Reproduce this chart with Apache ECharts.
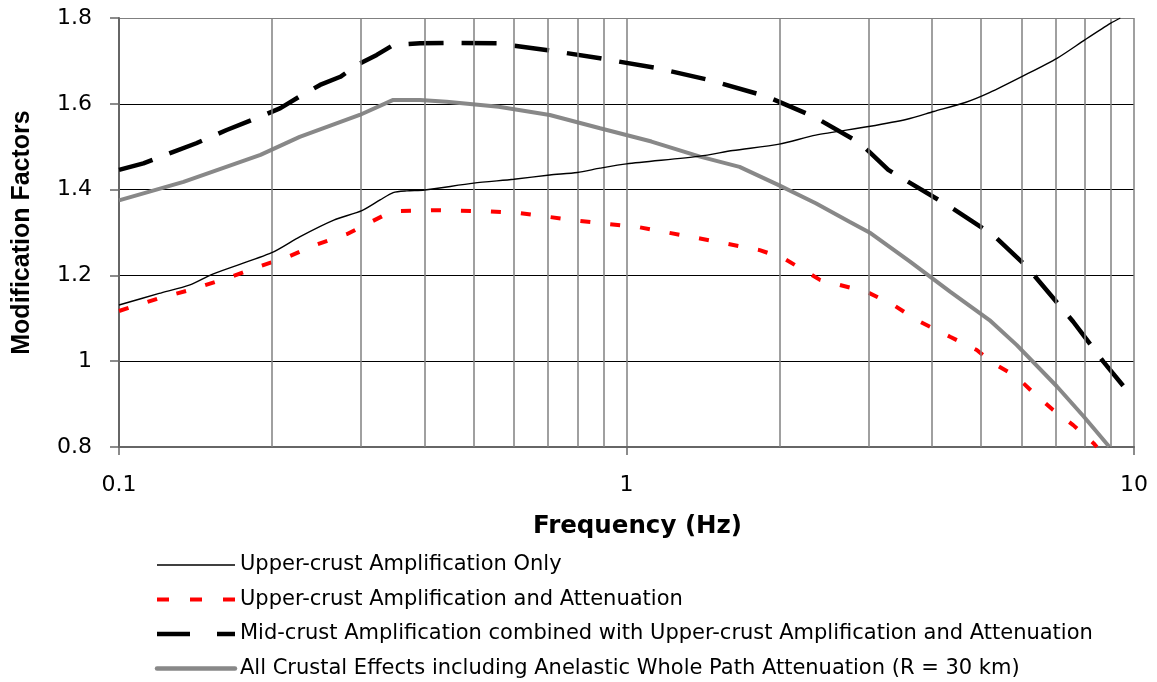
<!DOCTYPE html>
<html>
<head>
<meta charset="utf-8">
<script src="https://cdn.jsdelivr.net/npm/echarts@6/dist/echarts.min.js"></script>
<style>html,body{margin:0;padding:0;background:#fff;}#c{width:1157px;height:682px;}</style>
</head>
<body>
<div id="c"></div>
<script>
// ---- data ----
const seriesNames = [
  'Upper-crust Amplification Only',
  'Upper-crust Amplification and Attenuation',
  'Mid-crust Amplification combined with Upper-crust Amplification and Attenuation',
  'All Crustal Effects including Anelastic Whole Path Attenuation (R = 30 km)'
];
const yTicks = [0.8, 1.0, 1.2, 1.4, 1.6, 1.8];
const minorGridFreqs = [0.2, 0.3, 0.4, 0.5, 0.6, 0.7, 0.8, 0.9, 2, 3, 4, 5, 6, 7, 8, 9];

const upperOnlyFreq = [0.1, 0.12, 0.138, 0.153, 0.2, 0.227, 0.265, 0.301, 0.327, 0.347, 0.369, 0.4, 0.5, 0.6, 0.706, 0.8, 0.887, 1.0, 1.396, 1.62, 2.0, 2.36, 3.0, 3.57, 4.03, 4.65, 5.19, 6.05, 7.05, 8.0, 9.0, 9.4];
const upperOnlyVal  = [1.131, 1.158, 1.178, 1.203, 1.253, 1.290, 1.329, 1.351, 1.376, 1.393, 1.397, 1.399, 1.415, 1.424, 1.434, 1.440, 1.450, 1.460, 1.478, 1.491, 1.506, 1.527, 1.547, 1.564, 1.582, 1.603, 1.626, 1.665, 1.706, 1.749, 1.788, 1.800];

const upperAttFreq = [0.1, 0.12, 0.138, 0.163, 0.188, 0.216, 0.245, 0.281, 0.334, 0.352, 0.416, 0.538, 0.617, 0.81, 1.063, 1.396, 1.83, 2.04, 2.41, 2.97, 3.36, 3.73, 4.34, 4.9, 5.28, 5.87, 6.3, 6.93, 7.59, 8.32, 8.45];
const upperAttVal  = [1.117, 1.147, 1.166, 1.193, 1.220, 1.244, 1.272, 1.296, 1.341, 1.350, 1.352, 1.349, 1.345, 1.327, 1.312, 1.286, 1.259, 1.240, 1.189, 1.162, 1.131, 1.096, 1.057, 1.026, 0.995, 0.964, 0.929, 0.886, 0.851, 0.809, 0.800];

const midCrustFreq = [0.1, 0.1117, 0.128, 0.142, 0.163, 0.19, 0.208, 0.227, 0.249, 0.273, 0.298, 0.322, 0.347, 0.392, 0.456, 0.555, 0.70, 0.887, 1.15, 1.46, 1.89, 2.34, 2.89, 3.28, 4.34, 5.28, 6.15, 7.59, 8.7, 10];
const midCrustVal  = [1.446, 1.461, 1.488, 1.508, 1.539, 1.570, 1.590, 1.617, 1.644, 1.663, 1.694, 1.714, 1.737, 1.741, 1.742, 1.741, 1.725, 1.706, 1.683, 1.655, 1.617, 1.570, 1.508, 1.446, 1.360, 1.294, 1.220, 1.092, 0.999, 0.912];

const allCrustFreq = [0.1, 0.134, 0.19, 0.227, 0.298, 0.347, 0.392, 0.442, 0.56, 0.706, 0.887, 1.12, 1.396, 1.67, 1.99, 2.36, 2.75, 3.03, 3.62, 4.34, 5.19, 5.87, 7.05, 7.96, 8.93];
const allCrustVal  = [1.375, 1.418, 1.481, 1.523, 1.574, 1.609, 1.609, 1.605, 1.593, 1.574, 1.543, 1.512, 1.477, 1.453, 1.411, 1.368, 1.325, 1.298, 1.232, 1.162, 1.096, 1.038, 0.941, 0.871, 0.801];

function zip(xs, ys) { return xs.map((x, i) => [x, ys[i]]); }

// ---- styles ----
const lineStyles = [
  {color: '#000', width: 1.4, type: 'solid'},
  {color: '#ff0000', width: 4, type: [10, 20]},
  {color: '#000', width: 4.5, type: [35, 18]},
  {color: '#888888', width: 4, type: 'solid'}
];
const legendStyle = [
  {stroke: '#000', lineWidth: 1.4, lineDash: null},
  {stroke: '#ff0000', lineWidth: 4, lineDash: [12, 21]},
  {stroke: '#000', lineWidth: 4.5, lineDash: [33, 27]},
  {stroke: '#888888', lineWidth: 4.5, lineDash: null, lineCap: 'round'}
];

const chart = echarts.init(document.getElementById('c'), null, {renderer: 'canvas'});
const tickFont = 'DejaVu Sans';

const legendX0 = 157, legendX1 = 235, legendTextX = 240, legendY0 = 565, legendDy = 34.5;
const graphics = [];
seriesNames.forEach((name, i) => {
  const y = legendY0 + i * legendDy;
  graphics.push({
    type: 'line', silent: true,
    shape: {x1: legendX0, y1: y, x2: legendX1, y2: y},
    style: Object.assign({fill: null}, legendStyle[i])
  });
  graphics.push({
    type: 'text', silent: true, x: legendTextX, y: y,
    style: {text: name, fill: '#000', font: '21px "DejaVu Sans"', textAlign: 'left', textVerticalAlign: 'middle'}
  });
});

const dataSets = [
  zip(upperOnlyFreq, upperOnlyVal),
  zip(upperAttFreq, upperAttVal),
  zip(midCrustFreq, midCrustVal),
  zip(allCrustFreq, allCrustVal)
];
const zs = [5, 4, 4, 3];

const option = {
  animation: false,
  backgroundColor: '#fff',
  grid: {left: 119, right: 23, top: 18, bottom: 235, containLabel: false},
  xAxis: {
    type: 'log', logBase: 10, min: 0.1, max: 10,
    name: 'Frequency (Hz)', nameLocation: 'middle', nameGap: 67,
    nameTextStyle: {fontFamily: 'DejaVu Sans', fontWeight: 'bold', fontSize: 24.5, color: '#000', padding: [0, 0, 0, 22]},
    axisLine: {show: true, onZero: false, lineStyle: {color: '#666', width: 2}},
    axisTick: {show: true, length: 8, lineStyle: {color: '#666', width: 1.5}},
    axisLabel: {fontFamily: tickFont, fontSize: 22, color: '#000', margin: 27,
      formatter: v => String(v)},
    splitLine: {show: true, lineStyle: {color: '#808080', width: 1.5}}
  },
  yAxis: {
    type: 'value', min: yTicks[0], max: yTicks[yTicks.length - 1], interval: 0.2,
    name: 'Modification Factors', nameLocation: 'middle', nameGap: 84, nameRotate: 90,
    nameTextStyle: {fontFamily: 'Liberation Sans', fontWeight: 'bold', fontSize: 25, color: '#000'},
    axisLine: {show: true, lineStyle: {color: '#666', width: 2}},
    axisTick: {show: true, length: 9, lineStyle: {color: '#666', width: 1.5}},
    axisLabel: {fontFamily: tickFont, fontSize: 22, color: '#000', margin: 27,
      formatter: v => (Math.round(v * 10) / 10).toString()},
    splitLine: {show: true, lineStyle: {color: ['#666', '#000', '#000', '#000', '#000', '#808080'], width: 1.2}}
  },
  graphic: graphics,
  series: [
    {
      name: 'gridlines', type: 'line', data: [], silent: true, z: 1,
      markLine: {
        silent: true, symbol: ['none', 'none'], label: {show: false},
        lineStyle: {color: '#808080', width: 1.5, type: 'solid'},
        emphasis: {disabled: true},
        data: minorGridFreqs.map(f => ({xAxis: f}))
      }
    }
  ].concat(seriesNames.map((name, i) => ({
    name: name, type: 'line', data: dataSets[i],
    showSymbol: false, symbol: 'none', z: zs[i], smooth: i === 0 ? 0.25 : false,
    lineStyle: lineStyles[i], itemStyle: {color: lineStyles[i].color}
  })))
};
chart.setOption(option);
</script>
</body>
</html>
